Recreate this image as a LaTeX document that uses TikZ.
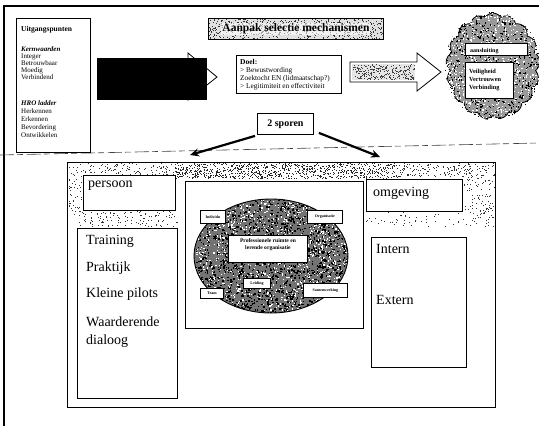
\documentclass[tikz,border=0pt]{standalone}
\usepackage{fontspec}
\setmainfont{Liberation Serif}
\usetikzlibrary{arrows.meta,shapes.symbols,calc}

% random grain: x1,y1,x2,y2,count,colour,dot size
\newcommand\speckle[7]{%
  \foreach \k in {1,...,#5}{%
    \pgfmathsetmacro\spx{#1+rnd*(#3-#1)}%
    \pgfmathsetmacro\spy{#2+rnd*(#4-#2)}%
    \fill[#6] (\spx,\spy) rectangle ++(#7,#7);}}

\begin{document}
\begin{tikzpicture}[x=1pt,y=-1pt,
  box/.style={draw,line width=0.9pt,fill=white,inner sep=0pt,anchor=north west},
  tiny/.style={font=\fontsize{7}{8}\selectfont,anchor=base west,inner sep=0pt},
  doeltxt/.style={font=\fontsize{7.3}{8}\selectfont,anchor=base west,inner sep=0pt},
  big/.style={font=\fontsize{14}{16}\selectfont,anchor=base west,inner sep=0pt},
  mini/.style={font=\bfseries\fontsize{4}{4.5}\selectfont,inner sep=0pt},
  spoor/.style={line width=2.2pt,-{Stealth[length=9pt,width=8pt]}}]
\pgfmathsetseed{11}
\useasboundingbox (0,0) rectangle (539,426);
\fill[white] (0,0) rectangle (539,426);

% page frame and divider
\draw[line width=1.1pt] (4,426) -- (4,6) -- (539,6);
\draw[line width=0.6pt,black!75,dash pattern=on 14pt off 3pt on 6pt off 4pt] (0,155) -- (539,143);

% starting points
\node[box,minimum width=74pt,minimum height=134pt] (uitg) at (16,18) {};
\node[tiny,font=\bfseries\fontsize{7.5}{8}\selectfont] (u0) at (21,31) {Uitgangspunten};
\node[tiny,font=\itshape\bfseries\fontsize{7}{8}\selectfont] (u1) at (21,51) {Kernwaarden};
\foreach \t/\yy [count=\i] in {Integer/58,Betrouwbaar/65,Moedig/72,Verbindend/79}
  \node[tiny] (uk\i) at (21,\yy) {\t};
\node[tiny,font=\itshape\bfseries\fontsize{7}{8}\selectfont] (u2) at (21,105) {HRO ladder};
\foreach \t/\yy [count=\i] in {Herkennen/113,Erkennen/121,Bevordering/129,Ontwikkelen/137}
  \node[tiny] (uh\i) at (21,\yy) {\t};

% arrow partly covered by the black block
\draw[line width=0.8pt,fill=white] (120,68) -- (188,68) -- (188,53) -- (217,77)
  -- (188,100) -- (188,87) -- (120,87) -- cycle;
\fill[black] (97,58) rectangle (207,100);

% title
\node[box,minimum width=175pt,minimum height=21pt,fill=black!12] (titel) at (208,18) {};
\begin{scope}
  \clip (208,18) rectangle (383,39);
  \speckle{208}{18}{383}{39}{650}{black!80}{1}
\end{scope}
\draw[line width=0.9pt] (208,18) rectangle (383,39);
\node[font=\bfseries\fontsize{11.5}{12}\selectfont,fill=white,fill opacity=0.55,text opacity=1,inner sep=1pt]
  (titeltxt) at (titel.center) {Aanpak selectie mechanismen};

% goal
\node[box,minimum width=105pt,minimum height=38pt] (doel) at (236,55) {};
\node[doeltxt,font=\bfseries\fontsize{7.5}{8}\selectfont] (d0) at (240,64) {Doel:};
\node[doeltxt] (d1) at (240,72) {> Bewustwording};
\node[doeltxt] (d2) at (240,80) {Zoektocht EN (lidmaatschap?)};
\node[doeltxt] (d3) at (240,88) {> Legitimiteit en effectiviteit};

% grey block arrow
\draw[line width=0.8pt,fill=white] (350,62) -- (417,62) -- (417,53) -- (441,72)
  -- (417,91) -- (417,82) -- (350,82) -- cycle;
\fill[black!10] (352,64) rectangle (415,80);
\speckle{352}{64}{414}{79}{260}{black!75}{1}

% result cloud
\node[cloud,cloud puffs=17,cloud puff arc=115,aspect=0.85,draw,line width=0.8pt,
  fill=black!40,minimum width=94pt,minimum height=106pt] (wolk) at (493,66) {};
\begin{scope}
  \clip (wolk.center) ellipse (48 and 54);
  \speckle{444}{11}{540}{121}{800}{black}{1.3}
  \speckle{444}{11}{540}{121}{750}{white}{1.2}
\end{scope}
\node[box,minimum width=62pt,minimum height=12pt] (wolk1) at (465,43) {};
\node[tiny,font=\bfseries\fontsize{6}{7}\selectfont] (w1) at (470,52) {aansluiting};
\node[box,minimum width=48pt,minimum height=36pt] (wolk2) at (465,62) {};
\foreach \t/\yy [count=\i] in {Veiligheid/73,Vertrouwen/81,Verbinding/89}
  \node[tiny,font=\bfseries\fontsize{6.3}{7}\selectfont] (wv\i) at (469,\yy) {\t};

% two tracks
\node[box,minimum width=56pt,minimum height=21pt] (sporen) at (257,113) {};
\node[font=\bfseries\fontsize{10}{11}\selectfont,inner sep=0pt] (sptxt) at (sporen.center) {2 sporen};
\coordinate (links) at (190,155);
\coordinate (rechts) at (380,157);
\draw[spoor] ($(sporen.south west)+(-2,1)$) -- (links);
\draw[spoor] ($(sporen.south east)+(5,-2)$) -- (rechts);

% lower panel with grain along the top
\draw[line width=0.9pt] (67,162) rectangle (495,407);
\speckle{175}{163}{400}{178}{900}{black!85}{1}
\speckle{68}{163}{175}{176}{120}{black!80}{1}
\speckle{400}{163}{494}{176}{160}{black!80}{1}
\speckle{68}{176}{83}{215}{45}{black!80}{1}
\speckle{78}{211}{177}{226}{120}{black!80}{1}
\speckle{463}{176}{494}{226}{110}{black!80}{1}
\speckle{366}{212}{462}{226}{45}{black!80}{1}

\node[box,minimum width=92pt,minimum height=35pt] (persoon) at (83,175) {};
\node[big] (ptxt) at (88,187) {persoon};
\node[box,minimum width=100pt,minimum height=170pt] (acties) at (77,228) {};
\node[big] (a1) at (86,244) {Training};
\node[big] (a2) at (86,271) {Praktijk};
\node[big] (a3) at (86,297) {Kleine pilots};
\node[big] (a4) at (86,326) {Waarderende};
\node[big] (a5) at (86,344) {dialoog};

\node[box,minimum width=96pt,minimum height=32pt] (omgeving) at (366,179) {};
\node[big] (otxt) at (373,196) {omgeving};
\node[box,minimum width=95pt,minimum height=130pt] (kanten) at (371,237) {};
\node[big] (k1) at (376,253) {Intern};
\node[big] (k2) at (376,304) {Extern};

% central model
\node[box,minimum width=178pt,minimum height=147pt] (model) at (185,181) {};
\fill[black!55] (271,256) ellipse (77 and 57);
\begin{scope}
  \clip (271,256) ellipse (77 and 57);
  \speckle{194}{199}{348}{313}{1800}{black}{1.5}
  \speckle{194}{199}{348}{313}{1100}{white}{1.2}
\end{scope}
\draw[line width=0.9pt] (271,256) ellipse (77 and 57);
\node[box,minimum width=79pt,minimum height=27pt] (kern) at (228,235) {};
\node[font=\bfseries\fontsize{5.6}{7}\selectfont,align=center,inner sep=0pt,anchor=north]
  (kerntxt) at ($(kern.north)+(0,3)$) {Professionele ruimte en\\lerende organisatie};
\node[box,minimum width=25pt,minimum height=13pt] (lb) at (200,210) {};
\node[mini] (lbt) at (lb.center) {Individu};
\node[box,minimum width=35pt,minimum height=13pt] (rb) at (307,210) {};
\node[mini] (rbt) at (rb.center) {Organisatie};
\node[box,minimum width=27pt,minimum height=10pt] (mo) at (243,278) {};
\node[mini] (mot) at (mo.center) {Leiding};
\node[box,minimum width=23pt,minimum height=10pt] (lo) at (200,288) {};
\node[mini] (lot) at (lo.center) {Team};
\node[box,minimum width=44pt,minimum height=14pt] (ro) at (303,283) {};
\node[mini] (rot) at (ro.center) {Samenwerking};
\end{tikzpicture}
\end{document}
